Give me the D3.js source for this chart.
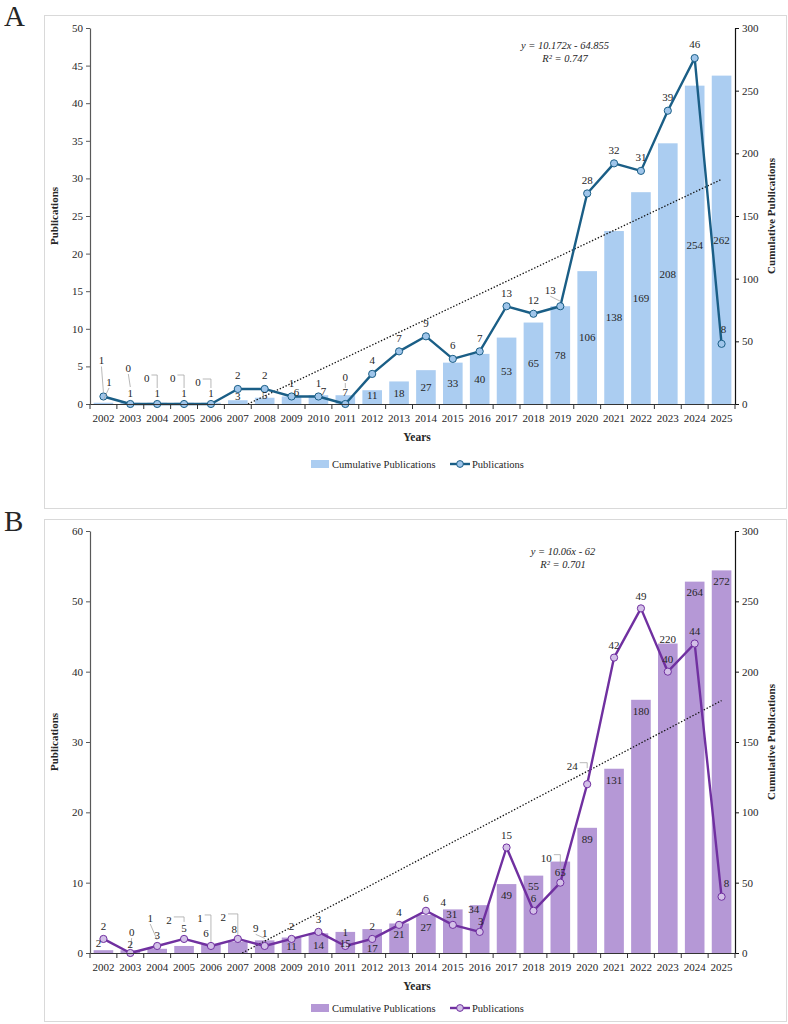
<!DOCTYPE html>
<html><head><meta charset="utf-8">
<script src="https://cdn.jsdelivr.net/npm/d3@7"></script>
<style>
body{margin:0;background:#fff}
svg{display:block}
text{font-family:"Liberation Serif","Times New Roman",serif;fill:#262626}
</style>
</head><body>
<svg id="c" width="788" height="1024"></svg>
<script>
// ---------------- DATA ----------------
const years = ["2002","2003","2004","2005","2006","2007","2008","2009","2010","2011","2012","2013",
               "2014","2015","2016","2017","2018","2019","2020","2021","2022","2023","2024","2025"];
const pubsA = [1,0,0,0,0,2,2,1,1,0,4,7,9,6,7,13,12,13,28,32,31,39,46,8];
const cumA  = [1,1,1,1,1,3,5,6,7,7,11,18,27,33,40,53,65,78,106,138,169,208,254,262];
const pubsB = [2,0,1,2,1,2,1,2,3,1,2,4,6,4,3,15,6,10,24,42,49,40,44,8];
const cumB  = [2,2,3,5,6,8,9,11,14,15,17,21,27,31,34,49,55,65,89,131,180,220,264,272];
const leftTicksA = [0,5,10,15,20,25,30,35,40,45,50];
const leftTicksB = [0,10,20,30,40,50,60];
const rightTicks = [0,50,100,150,200,250,300];
const trendA = [10.172, -64.855];
const trendB = [10.06, -62];
const trendTextA = ["y = 10.172x - 64.855", "R² = 0.747"];
const trendTextB = ["y = 10.06x - 62", "R² = 0.701"];
const legendNames = ["Cumulative Publications", "Publications"];
const axisNames = ["Publications", "Cumulative Publications", "Years"];

// ---------------- LAYOUT (label nudges, leader lines) ----------------
// [dx, dy, leaderType, gap]  (null = default placement)
const pubNudgeA = [[-2,-36,'d',4],[-2,-36,'d',17],[-10.5,-26,'e',16],[-11.4,-26,'e',16],[-13,-22,'e',16],
  null,null,null,null,[0,-27,'d',16],null,null,null,null,null,null,null,[-10,-16,'d',5],null,null,null,null,null,[2,-15]];
// relative to bar centre
const cumNudgeA = [[5.6,-21.4,'d',3],[0,-10.4],[0,-10.4],[0,-10.4],[0,-10.4],[0,-6],[0,-6],[5,-8],[5,-8],[0,-7],[0,-2],
  null,null,null,null,null,null,null,null,null,null,null,null,null];
const pubNudgeB = [null,[1.4,-21,'d',5],[-7,-28,'d',6],[-15,-19,'e',17],[-11,-28,'e',4],[-14.5,-22,'e',4],
  null,null,null,[0,-14],null,null,null,[-9.5,-22.6],[1,-11],null,null,[-14,-25,'e',16],[-15,-18.5,'e',16],null,null,null,null,[5,-14]];
// relative to bar top
const cumNudgeB = [[-5,-7],[0,-6],[0,-14],[0,-18],[-5,-11],[-3.5,-13],[-9,-12,'d',2],[0,9],[0,12],[0,11],[0,19],[0,11],
  [0,12],[-1,5],[-6,4],[0,11],[0,11],[0,11],[0,11],[0,11],[0,11],[0,-4],[0,11],[0,11]];

const svg = d3.select("#c");

function drawPanel(p){
  const g = svg.append("g");
  g.append("rect").attr("x",p.frame[0]+0.5).attr("y",p.frame[1]+0.5)
    .attr("width",p.frame[2]).attr("height",p.frame[3])
    .attr("fill","#fff").attr("stroke","#d9d9d9").attr("stroke-width",1);
  g.append("text").attr("x",4).attr("y",p.labelY).attr("font-size",29).text(p.label);

  const L=90, R=735, T=p.top, B=p.bottom;
  const x = d3.scaleBand().domain(years).range([L,R]).paddingInner(0.27).paddingOuter(0.135);
  const bw = x.bandwidth();
  const cx = d => x(d)+bw/2;
  const yL = d3.scaleLinear().domain([0,p.leftMax]).range([B,T]);
  const yR = d3.scaleLinear().domain([0,300]).range([B,T]);

  // bars
  g.append("g").selectAll("rect").data(years).join("rect")
    .attr("x",d=>x(d)).attr("width",bw)
    .attr("y",(d,i)=>yR(p.cum[i])).attr("height",(d,i)=>B-yR(p.cum[i]))
    .attr("fill",p.barColor);

  // trend line (linear, on cumulative axis, x = 1..24)
  const xi = d3.scaleLinear().domain([1,years.length]).range([cx(years[0]),cx(years[years.length-1])]);
  const [m,b] = p.trend;
  const x0 = Math.max(1,-b/m), x1 = years.length;
  g.append("line").attr("x1",xi(x0)).attr("y1",yR(m*x0+b)).attr("x2",xi(x1)).attr("y2",yR(m*x1+b))
    .attr("stroke","#111").attr("stroke-width",1.3).attr("stroke-dasharray","1.4,1.8");
  g.append("text").attr("x",p.eqX).attr("y",p.eqY).attr("text-anchor","middle")
    .attr("font-size",10.5).attr("font-style","italic").text(p.trendText[0]);
  g.append("text").attr("x",p.eqX).attr("y",p.eqY+13).attr("text-anchor","middle")
    .attr("font-size",10.5).attr("font-style","italic").text(p.trendText[1]);

  // line + markers
  const line = d3.line().x((d,i)=>cx(years[i])).y(d=>yL(d));
  g.append("path").datum(p.pubs).attr("d",line).attr("fill","none")
    .attr("stroke",p.lineColor).attr("stroke-width",2.4).attr("stroke-linejoin","round");
  g.append("g").selectAll("circle").data(p.pubs).join("circle")
    .attr("cx",(d,i)=>cx(years[i])).attr("cy",d=>yL(d)).attr("r",3.6)
    .attr("fill",p.markerFill).attr("stroke",p.lineColor).attr("stroke-width",1);

  const leaders = g.append("g").attr("stroke","#a6a6a6").attr("stroke-width",0.8).attr("fill","none");
  function leader(type, lx, ly, ax, ay, gap, w){
    if(type==='d'){
      leaders.append("line").attr("x1",lx).attr("y1",ly+6).attr("x2",ax).attr("y2",ay-gap);
    } else if(type==='e'){
      leaders.append("path").attr("d",`M${lx+w/2+2},${ly-3}H${ax}V${ay-gap}`);
    }
  }
  // cumulative labels
  p.cum.forEach((v,i)=>{
    const ax = cx(years[i]);
    const ay = p.cumMode==='center' ? (yR(v)+B)/2 : yR(v)+11;
    let n = p.cumNudge[i];
    let lx=ax, ly=ay;
    if(n){ lx = ax+n[0]; ly = (p.cumMode==='center'? ay : yR(v)) + n[1]; }
    g.append("text").attr("x",lx).attr("y",ly).attr("dy","0.35em").attr("text-anchor","middle")
      .attr("font-size",11).text(v);
    if(n && n[2]) leader(n[2],lx,ly,ax,yR(v),n[3],String(v).length*5.5);
  });
  // publication labels
  p.pubs.forEach((v,i)=>{
    const ax = cx(years[i]), ay = yL(v);
    const n = p.pubNudge[i];
    const lx = ax+(n?n[0]:0), ly = ay+(n?n[1]:p.stdDy);
    g.append("text").attr("x",lx).attr("y",ly).attr("dy","0.35em").attr("text-anchor","middle")
      .attr("font-size",11).text(v);
    if(n && n[2]) leader(n[2],lx,ly,ax,ay,n[3],String(v).length*5.5);
  });

  // axes
  const aL = g.append("g").attr("transform",`translate(${L},0)`)
    .call(d3.axisLeft(yL).tickValues(p.leftTicks).tickSize(4).tickSizeOuter(0).tickPadding(3));
  aL.select(".domain").attr("stroke","#595959").attr("stroke-width",1.2);
  aL.selectAll(".tick line").attr("stroke","#595959");
  aL.selectAll("text").attr("font-size",11).attr("font-family","Liberation Serif").attr("fill","#262626");
  const aR = g.append("g").attr("transform",`translate(${R},0)`)
    .call(d3.axisRight(yR).tickValues(rightTicks).tickSize(4).tickSizeOuter(0).tickPadding(3));
  aR.select(".domain").attr("stroke","#111").attr("stroke-width",1.2);
  aR.selectAll(".tick line").attr("stroke","#111");
  aR.selectAll("text").attr("font-size",11).attr("font-family","Liberation Serif").attr("fill","#262626");
  const aB = g.append("g").attr("transform",`translate(0,${B})`)
    .call(d3.axisBottom(x).tickSize(0).tickPadding(10).tickSizeOuter(0));
  aB.select(".domain").attr("stroke","#333").attr("stroke-width",1.2);
  aB.selectAll("text").attr("font-size",11).attr("font-family","Liberation Serif").attr("fill","#262626");
  const step = x.step(), gapHalf = (step-bw)/2;
  const bounds = years.map(d=>x(d)-gapHalf).concat([x(years[years.length-1])+bw+gapHalf]);
  g.append("g").selectAll("line").data(bounds).join("line")
    .attr("x1",d=>d).attr("x2",d=>d).attr("y1",B).attr("y2",B+5).attr("stroke","#333");

  // titles
  g.append("text").attr("transform",`translate(58,${(T+B)/2}) rotate(-90)`).attr("text-anchor","middle")
    .attr("font-size",11).attr("font-weight","bold").text(axisNames[0]);
  g.append("text").attr("transform",`translate(775,${(T+B)/2}) rotate(-90)`).attr("text-anchor","middle")
    .attr("font-size",11).attr("font-weight","bold").text(axisNames[1]);
  g.append("text").attr("x",417).attr("y",B+37).attr("text-anchor","middle")
    .attr("font-size",11.5).attr("font-weight","bold").text(axisNames[2]);

  // legend
  const ly = p.legendY;
  g.append("rect").attr("x",311).attr("y",ly-4).attr("width",18).attr("height",8).attr("fill",p.barColor);
  g.append("text").attr("x",332).attr("y",ly).attr("dy","0.35em").attr("font-size",10.5).text(legendNames[0]);
  g.append("line").attr("x1",450).attr("x2",470).attr("y1",ly).attr("y2",ly)
    .attr("stroke",p.lineColor).attr("stroke-width",2.4);
  g.append("circle").attr("cx",460).attr("cy",ly).attr("r",3.4)
    .attr("fill",p.markerFill).attr("stroke",p.lineColor).attr("stroke-width",1);
  g.append("text").attr("x",472).attr("y",ly).attr("dy","0.35em").attr("font-size",10.5).text(legendNames[1]);
}

drawPanel({label:"A", labelY:26, frame:[44,15,742,493], top:28, bottom:404, leftMax:50,
  leftTicks:leftTicksA, pubs:pubsA, cum:cumA, trend:trendA, trendText:trendTextA,
  eqX:565, eqY:49, barColor:"#abcdf1", lineColor:"#1a5e86", markerFill:"#9fc5ea",
  cumMode:'center', cumNudge:cumNudgeA, pubNudge:pubNudgeA, stdDy:-13.5, legendY:464});
drawPanel({label:"B", labelY:531, frame:[44,519,742,502], top:531, bottom:953, leftMax:60,
  leftTicks:leftTicksB, pubs:pubsB, cum:cumB, trend:trendB, trendText:trendTextB,
  eqX:563, eqY:555, barColor:"#b598d6", lineColor:"#7030a0", markerFill:"#d3c0e8",
  cumMode:'top', cumNudge:cumNudgeB, pubNudge:pubNudgeB, stdDy:-12.5, legendY:1008});
</script>
</body></html>
